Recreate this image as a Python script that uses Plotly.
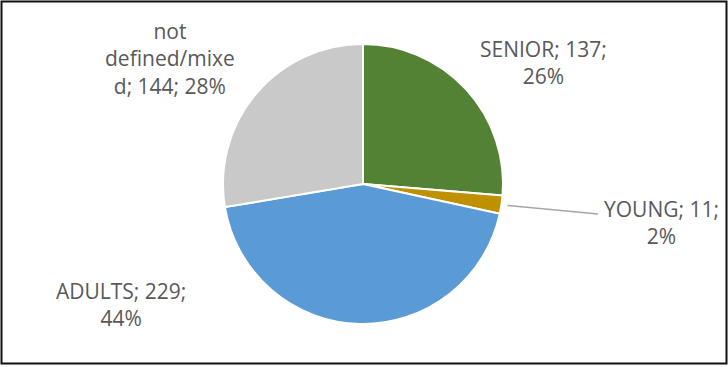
import math
import plotly.graph_objects as go

categories = ["SENIOR", "YOUNG", "ADULTS", "not defined/mixed"]
values = [137, 11, 229, 144]
colors = ["#548235", "#BF9000", "#5B9BD5", "#C9C9C9"]

W, H = 728, 367
CX, CY, R = 363, 184, 140

total = sum(values)
pcts = [round(v / total * 100) for v in values]

fig = go.Figure(go.Pie(
    labels=categories,
    values=values,
    sort=False,
    direction="clockwise",
    rotation=0,
    textinfo="none",
    hoverinfo="label+value+percent",
    marker=dict(colors=colors, line=dict(color="white", width=2)),
    domain=dict(x=[(CX - R) / W, (CX + R) / W], y=[(H - CY - R) / H, (H - CY + R) / H]),
    showlegend=False,
))

labels_text = [
    f"{categories[0]}; {values[0]};<br>{pcts[0]}%",
    f"{categories[1]}; {values[1]};<br>{pcts[1]}%",
    f"{categories[2]}; {values[2]};<br>{pcts[2]}%",
    f"not<br>defined/mixe<br>d; {values[3]}; {pcts[3]}%",
]
label_pos = [(543, 63), (661, 222), (121, 304), (170, 58)]

font = dict(family="Open Sans, Lato, Liberation Sans, sans-serif", size=21, color="#595959")
for txt, (px, py) in zip(labels_text, label_pos):
    fig.add_annotation(x=px / W, y=1 - py / H, xref="paper", yref="paper",
                       text=txt, showarrow=False, xanchor="center", yanchor="middle",
                       align="center", font=font)

# leader line for YOUNG slice, starting at its mid-angle on the rim
mid = (values[0] + values[1] / 2) / total * 2 * math.pi
sx = CX + (R + 6) * math.sin(mid)
sy = CY - (R + 6) * math.cos(mid)
fig.add_shape(type="line", xref="paper", yref="paper",
              x0=sx / W, y0=1 - sy / H, x1=598 / W, y1=1 - 214 / H,
              line=dict(color="#A6A6A6", width=1.5))

# outer border
fig.add_shape(type="rect", xref="paper", yref="paper",
              x0=1.5 / W, x1=726.5 / W, y0=1 - 363.5 / H, y1=1 - 1.5 / H,
              line=dict(color="#111111", width=2), fillcolor="rgba(0,0,0,0)")

fig.update_layout(width=W, height=H, margin=dict(l=0, r=0, t=0, b=0),
                  paper_bgcolor="white", plot_bgcolor="white")

fig.write_html("out.html", config={"displayModeBar": False},
               post_script="document.body.style.margin='0';document.body.style.overflow='hidden';")
